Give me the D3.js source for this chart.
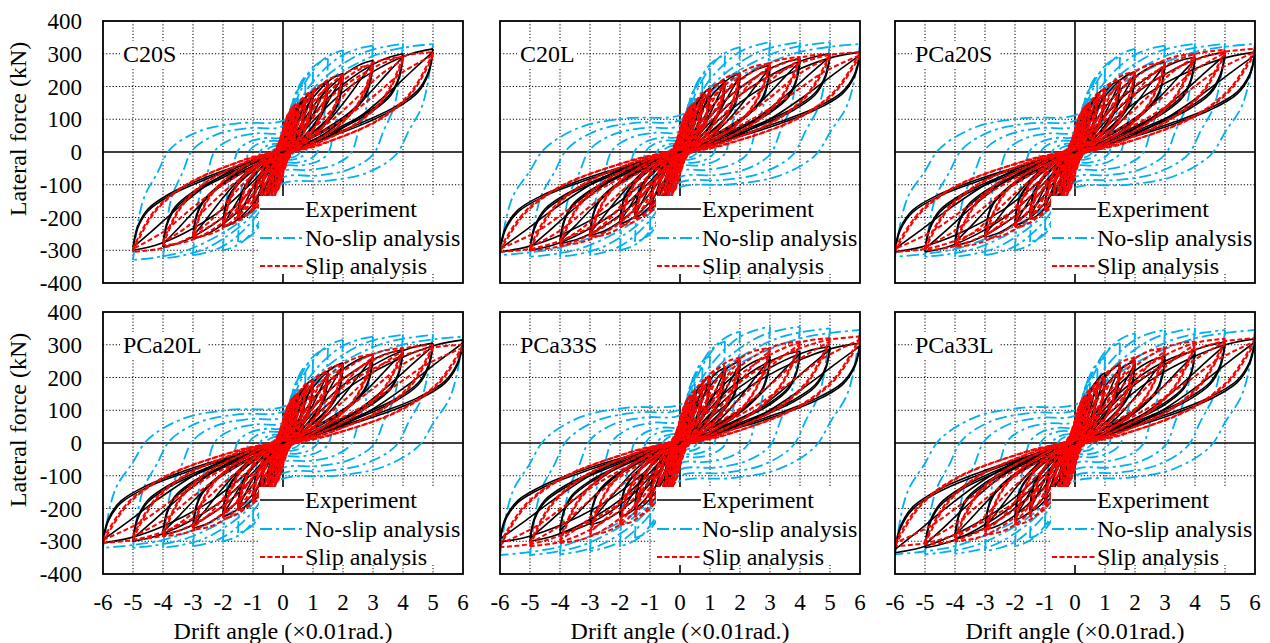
<!DOCTYPE html>
<html><head><meta charset="utf-8">
<script src="https://cdn.jsdelivr.net/npm/d3@7"></script>
<style>
body{margin:0;background:#fff}
svg{display:block}
text{font-family:"Liberation Serif","Times New Roman",Times,serif;fill:#000}
</style>
</head><body>
<svg id="chart" width="1270" height="643" font-family="Liberation Serif, Times New Roman, serif"></svg>
<script>
// ---------- axis ticks / names ----------
const xTicks = [-6,-5,-4,-3,-2,-1,0,1,2,3,4,5,6];
const yTicks = [-400,-300,-200,-100,0,100,200,300,400];
const panelNames = ["C20S","C20L","PCa20S","PCa20L","PCa33S","PCa33L"];
const seriesNames = ["Experiment","No-slip analysis","Slip analysis"];

// drift amplitudes of the loading cycles (x0.01 rad)
const amps = [0.125, 0.25, 0.375, 0.5, 0.75, 1, 1.5, 2, 3, 4, 5, 6];
// force at zero drift on the reloading branch (fraction of peak), per amplitude
const nsResid   = [0.05, 0.06, 0.07, 0.08, 0.1, 0.11, 0.13, 0.15, 0.19, 0.24, 0.29, 0.34];
const slipResid = [0.6, 0.5, 0.45, 0.35, 0.25, 0.15, 0.08, 0.05, 0.03, 0.02, 0.02, 0.02];
const expResid  = [0.3, 0.25, 0.2, 0.15, 0.1, 0.06, 0.03, 0.02, 0, 0, 0, 0];

// normalised loop shapes read from the loops: [u = drift/amplitude, v = force/peak, w = weight of residual]
const expShape   = [[-1,-1,0],[-0.97,-0.78,0],[-0.9,-0.6,0.2],[-0.75,-0.44,0.5],[-0.55,-0.3,0.8],[-0.3,-0.15,1],[-0.1,-0.04,1],[0.05,0.06,0.9],[0.2,0.3,0.6],[0.4,0.58,0.3],[0.65,0.82,0.1],[0.85,0.95,0],[1,1,0]];
const expShape2  = [[-1,-0.97,0],[-0.97,-0.76,0],[-0.9,-0.58,0.1],[-0.75,-0.42,0.3],[-0.55,-0.28,0.5],[-0.3,-0.14,0.6],[-0.1,-0.05,0.6],[0.1,0.03,0.5],[0.3,0.15,0.4],[0.5,0.33,0.2],[0.7,0.57,0.1],[0.87,0.8,0],[1,0.97,0]];
const slipShape  = [[-1,-1,0],[-0.98,-0.93,0],[-0.85,-0.6,0.3],[-0.64,-0.34,0.6],[-0.27,-0.1,0.85],[0,0.03,1],[0.17,0.3,0.7],[0.33,0.56,0.4],[0.5,0.75,0.2],[0.67,0.89,0.08],[0.83,0.97,0],[1,1,0]];
const slipShape2 = [[-1,-0.97,0],[-0.98,-0.9,0],[-0.85,-0.58,0.2],[-0.64,-0.33,0.45],[-0.27,-0.1,0.65],[0,0.01,0.75],[0.2,0.14,0.6],[0.4,0.32,0.4],[0.6,0.55,0.2],[0.8,0.8,0.05],[1,0.97,0]];
const noSlipShape= [[-1,-1,0],[-0.96,-0.6,0],[-0.92,-0.4,0],[-0.84,-0.2,0],[-0.75,0,0.1],[-0.55,0,0.68],[-0.29,0,0.92],[0,0,1],[0.17,0.35,0.55],[0.33,0.6,0.3],[0.5,0.78,0.15],[0.67,0.9,0.08],[0.85,0.97,0.02],[1,1,0]];

// ---------- peak forces (kN) at each amplitude ----------
const c20sExpPos   = [80, 105, 125, 140, 165, 185, 215, 240, 280, 300, 315];
const c20sExpNeg   = [-75, -100, -115, -130, -155, -175, -205, -230, -265, -290, -300];
const c20sSlipPos  = [90, 125, 140, 150, 165, 185, 210, 235, 265, 290, 305];
const c20sSlipNeg  = [-90, -125, -140, -150, -160, -175, -200, -225, -260, -285, -305];
const c20sNsPos    = [70, 110, 140, 165, 210, 245, 285, 310, 325, 330, 330];
const c20sNsNeg    = [-65, -105, -135, -160, -200, -235, -275, -300, -315, -325, -330];

const c20lExpPos   = [80, 105, 125, 145, 170, 195, 220, 240, 265, 285, 300, 305];
const c20lExpNeg   = [-75, -100, -115, -130, -155, -175, -200, -220, -255, -280, -300, -305];
const c20lSlipPos  = [90, 125, 140, 150, 170, 190, 215, 240, 270, 290, 300, 305];
const c20lSlipNeg  = [-90, -125, -140, -150, -160, -180, -205, -225, -260, -285, -300, -305];
const c20lNsPos    = [70, 110, 140, 165, 215, 250, 295, 320, 335, 335, 335, 330];
const c20lNsNeg    = [-65, -105, -135, -160, -200, -235, -275, -300, -315, -320, -320, -315];

const pca20sExpPos  = [80, 105, 125, 145, 170, 195, 220, 245, 275, 290, 305, 305];
const pca20sExpNeg  = [-75, -100, -115, -130, -155, -175, -205, -225, -260, -285, -305, -305];
const pca20sSlipPos = [90, 125, 140, 150, 170, 190, 220, 245, 275, 300, 312, 315];
const pca20sSlipNeg = [-90, -125, -140, -150, -160, -180, -205, -230, -265, -290, -300, -305];
const pca20sNsPos   = [70, 110, 140, 165, 215, 250, 290, 315, 325, 330, 330, 330];
const pca20sNsNeg   = [-65, -105, -135, -160, -200, -235, -275, -300, -315, -320, -320, -320];

const pca20lExpPos  = [80, 105, 125, 145, 170, 195, 220, 245, 270, 285, 305, 315];
const pca20lExpNeg  = [-75, -100, -115, -130, -155, -175, -205, -225, -260, -280, -300, -305];
const pca20lSlipPos = [90, 125, 140, 150, 170, 190, 215, 240, 270, 290, 300, 300];
const pca20lSlipNeg = [-90, -125, -140, -150, -160, -180, -205, -230, -265, -285, -295, -305];
const pca20lNsPos   = [70, 110, 140, 165, 215, 250, 290, 315, 325, 330, 330, 325];
const pca20lNsNeg   = [-65, -105, -135, -160, -200, -235, -275, -300, -315, -320, -320, -320];

const pca33sExpPos  = [80, 110, 130, 150, 180, 205, 230, 250, 265, 280, 295, 305];
const pca33sExpNeg  = [-75, -100, -115, -130, -155, -180, -205, -225, -250, -275, -300, -302];
const pca33sSlipPos = [95, 130, 145, 160, 180, 200, 235, 260, 290, 310, 320, 325];
const pca33sSlipNeg = [-95, -130, -145, -155, -170, -190, -225, -250, -280, -305, -315, -318];
const pca33sNsPos   = [75, 115, 150, 180, 230, 265, 310, 340, 355, 355, 350, 345];
const pca33sNsNeg   = [-70, -110, -145, -170, -215, -250, -290, -315, -330, -340, -342, -342];

const pca33lExpPos  = [80, 110, 135, 155, 190, 215, 240, 250, 265, 280, 308, 318];
const pca33lExpNeg  = [-75, -100, -115, -130, -155, -180, -210, -235, -265, -290, -320, -335];
const pca33lSlipPos = [95, 130, 145, 160, 180, 200, 235, 260, 290, 310, 318, 320];
const pca33lSlipNeg = [-95, -130, -145, -155, -170, -190, -225, -250, -280, -300, -310, -315];
const pca33lNsPos   = [75, 115, 150, 180, 225, 260, 305, 335, 345, 350, 345, 345];
const pca33lNsNeg   = [-70, -110, -145, -170, -215, -250, -290, -315, -330, -338, -340, -340];

// ---------- assemble ----------
const panelData = [
  {exp:[c20sExpPos,c20sExpNeg], ns:[c20sNsPos,c20sNsNeg], slip:[c20sSlipPos,c20sSlipNeg]},
  {exp:[c20lExpPos,c20lExpNeg], ns:[c20lNsPos,c20lNsNeg], slip:[c20lSlipPos,c20lSlipNeg]},
  {exp:[pca20sExpPos,pca20sExpNeg], ns:[pca20sNsPos,pca20sNsNeg], slip:[pca20sSlipPos,pca20sSlipNeg]},
  {exp:[pca20lExpPos,pca20lExpNeg], ns:[pca20lNsPos,pca20lNsNeg], slip:[pca20lSlipPos,pca20lSlipNeg]},
  {exp:[pca33sExpPos,pca33sExpNeg], ns:[pca33sNsPos,pca33sNsNeg], slip:[pca33sSlipPos,pca33sSlipNeg]},
  {exp:[pca33lExpPos,pca33lExpNeg], ns:[pca33lNsPos,pca33lNsNeg], slip:[pca33lSlipPos,pca33lSlipNeg]}
];

const styles = {
  exp:  {stroke:"#000000", width:1.6, dash:null},
  ns:   {stroke:"#00b0f0", width:1.8, dash:"12,4,3,4"},
  slip: {stroke:"#ff0000", width:2, dash:"5,2.5"}
};
const shapes = {exp:[expShape, expShape2], ns:[noSlipShape], slip:[slipShape, slipShape2]};
const resid = {exp:expResid, ns:nsResid, slip:slipResid};
const drawOrder = ["ns", "exp", "slip"];
const legendOrder = ["exp", "ns", "slip"];

const svg = d3.select("#chart");
const lefts = [103, 500, 895];
const tops = [21, 312];
const W = 360, H = 262;

function branches(shape, d, fp, fn, r) {
  const sc = v => v >= 0 ? v * fp : v * (-fn);
  const val = p => p[1] + p[2] * r;
  const upper = shape.map(p => [p[0] * d, sc(val(p))]);
  const lower = shape.map(p => [-p[0] * d, sc(-val(p))]);
  return [upper, lower];
}

panelNames.forEach((name, i) => {
  const col = i % 3, row = Math.floor(i / 3);
  const L = lefts[col], T = tops[row];
  const x = d3.scaleLinear().domain([-6, 6]).range([L, L + W]);
  const y = d3.scaleLinear().domain([-400, 400]).range([T + H, T]);
  const g = svg.append("g");

  // grid
  g.selectAll(".gx").data(xTicks.filter(v => v !== 0 && Math.abs(v) !== 6)).enter().append("line")
    .attr("x1", d => x(d)).attr("x2", d => x(d)).attr("y1", T).attr("y2", T + H)
    .attr("stroke", "#000").attr("stroke-width", 1).attr("stroke-dasharray", "1.2,2");
  g.selectAll(".gy").data(yTicks.filter(v => v !== 0 && Math.abs(v) !== 400)).enter().append("line")
    .attr("y1", d => y(d)).attr("y2", d => y(d)).attr("x1", L).attr("x2", L + W)
    .attr("stroke", "#000").attr("stroke-width", 1).attr("stroke-dasharray", "1.2,2");
  // zero lines
  g.append("line").attr("x1", x(0)).attr("x2", x(0)).attr("y1", T).attr("y2", T + H).attr("stroke", "#000").attr("stroke-width", 1.6);
  g.append("line").attr("x1", L).attr("x2", L + W).attr("y1", y(0)).attr("y2", y(0)).attr("stroke", "#000").attr("stroke-width", 1.6);

  // clip
  const cid = "clip" + i;
  svg.append("clipPath").attr("id", cid).append("rect").attr("x", L).attr("y", T).attr("width", W).attr("height", H);
  const pg = g.append("g").attr("clip-path", `url(#${cid})`);
  const line = d3.line().x(d => x(d[0])).y(d => y(d[1])).curve(d3.curveCatmullRom.alpha(0.5));

  drawOrder.forEach(key => {
    const [pos, neg] = panelData[i][key];
    const st = styles[key];
    const paths = [];
    shapes[key].forEach(shape => {
      pos.forEach((fp, k) => {
        const [up, lo] = branches(shape, amps[k], fp, neg[k], resid[key][k]);
        paths.push(up, lo);
      });
    });
    pg.selectAll(null).data(paths).enter().append("path")
      .attr("d", line).attr("fill", "none").attr("stroke", st.stroke)
      .attr("stroke-width", st.width).attr("stroke-dasharray", st.dash);
  });

  // legend
  const lg = g.append("g");
  lg.append("rect").attr("x", L + 156).attr("y", T + 175).attr("width", W - 156).attr("height", 78).attr("fill", "#fff");
  const rowsY = [T + 188, T + 217, T + 245];
  legendOrder.forEach((key, k) => {
    const st = styles[key];
    lg.append("line").attr("x1", L + 157).attr("x2", L + 201).attr("y1", rowsY[k]).attr("y2", rowsY[k])
      .attr("stroke", st.stroke).attr("stroke-width", st.width).attr("stroke-dasharray", st.dash);
    lg.append("text").attr("x", L + 202).attr("y", rowsY[k]).attr("dy", "0.33em")
      .attr("font-size", 24).text(seriesNames[k]);
  });

  // panel label
  g.append("rect").attr("x", L + 17).attr("y", T + 20).attr("width", name.length * 14 + 4).attr("height", 26).attr("fill", "#fff");
  g.append("text").attr("x", L + 20).attr("y", y(300)).attr("dy", "0.33em").attr("font-size", 24).text(name);

  // frame
  g.append("rect").attr("x", L).attr("y", T).attr("width", W).attr("height", H)
    .attr("fill", "none").attr("stroke", "#000").attr("stroke-width", 1.8);

  // y tick labels on the first column
  if (col === 0) {
    g.selectAll(".yl").data(yTicks).enter().append("text")
      .attr("x", 82).attr("y", d => y(d)).attr("dy", "0.35em").attr("text-anchor", "end")
      .attr("font-size", 23).text(d => d);
    g.append("text").attr("transform", `translate(26,${T + 108}) rotate(-90)`)
      .attr("text-anchor", "middle").attr("font-size", 24).text("Lateral force (kN)");
  }
  // x tick labels on the bottom row
  if (row === 1) {
    g.selectAll(".xl").data(xTicks).enter().append("text")
      .attr("x", d => x(d)).attr("y", 610).attr("text-anchor", "middle")
      .attr("font-size", 23).text(d => d);
    g.append("text").attr("x", L + W / 2).attr("y", 639).attr("text-anchor", "middle")
      .attr("font-size", 24).text("Drift angle (\u00d70.01rad.)");
  }
});
</script>
</body></html>
